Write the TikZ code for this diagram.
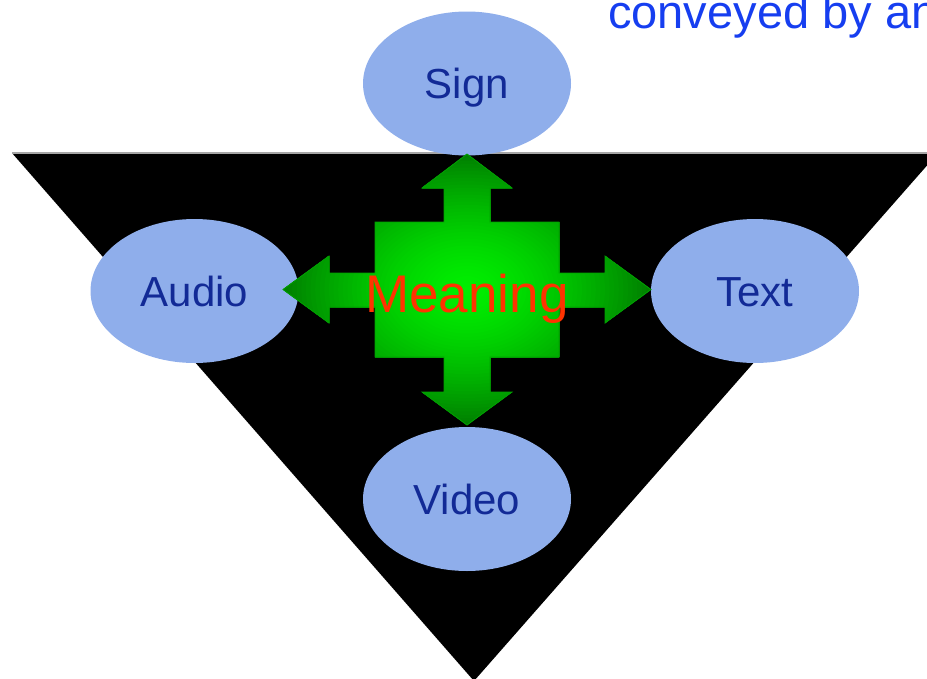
\documentclass[tikz,border=0pt]{standalone}
\usepackage{fontspec}
\setmainfont{Liberation Sans}
\usetikzlibrary{shapes.geometric}
\definecolor{ellfill}{RGB}{143,174,235}
\definecolor{lblblue}{RGB}{18,42,150}
\definecolor{topblue}{RGB}{22,62,240}
\definecolor{meanred}{RGB}{255,51,0}
\definecolor{gin}{RGB}{0,238,0}
\definecolor{gout}{RGB}{0,128,0}
\definecolor{gedge}{RGB}{0,160,0}
\tikzset{
  ell/.style={ellipse, fill=ellfill, inner sep=0pt, minimum width=208pt, minimum height=144pt,
    text=lblblue, font=\fontsize{42}{50}\selectfont, text height=30pt, text depth=0pt},
}
\begin{document}
\begin{tikzpicture}[x=1pt,y=-1pt]
\useasboundingbox (0,0) rectangle (927,678);
\clip (0,0) rectangle (927,678);
% triangle
\fill[black] (12,153) -- (938,153) -- (474,681) -- cycle;
\draw[gray!70, line width=1.2pt] (12,153) -- (938,153);
% ellipses
\node[ell] (sign)  at (467,83.5) {Sign};
\node[ell] (audio) at (194.5,291) {Audio};
\node[ell] (text)  at (755,291) {Text};
\node[ell] (video) at (467,499) {Video};
% green cross with radial gradient
\begin{scope}
\clip
 (467,154) -- (512,188) -- (490,188) -- (490,222) -- (559,222) -- (559,273) -- (605,273) -- (605,256)
 -- (651,289.5) -- (605,323) -- (605,307) -- (559,307) -- (559,357) -- (490,357) -- (490,392) -- (512,392)
 -- (467,425) -- (422,392) -- (444,392) -- (444,357) -- (375,357) -- (375,307) -- (329,307) -- (329,323)
 -- (283,289.5) -- (329,256) -- (329,273) -- (375,273) -- (375,222) -- (444,222) -- (444,188) -- (422,188) -- cycle;
\fill[gout] (270,140) rectangle (665,440);
\foreach \i in {44,...,1}{
  \pgfmathsetmacro{\p}{min(100,100*(\i/40)^1.5)}
  \pgfmathsetmacro{\rx}{184*\i/40}
  \pgfmathsetmacro{\ry}{135.5*\i/40}
  \fill[gout!\p!gin] (467,289.5) ellipse [x radius=\rx pt, y radius=\ry pt];
}
\end{scope}
\draw[gedge, line width=0.8pt]
 (467,154) -- (512,188) -- (490,188) -- (490,222) -- (559,222) -- (559,273) -- (605,273) -- (605,256)
 -- (651,289.5) -- (605,323) -- (605,307) -- (559,307) -- (559,357) -- (490,357) -- (490,392) -- (512,392)
 -- (467,425) -- (422,392) -- (444,392) -- (444,357) -- (375,357) -- (375,307) -- (329,307) -- (329,323)
 -- (283,289.5) -- (329,256) -- (329,273) -- (375,273) -- (375,222) -- (444,222) -- (444,188) -- (422,188) -- cycle;
\node[text=meanred, font=\fontsize{53}{60}\selectfont, inner sep=0pt, anchor=base] (meaning) at (467,312) {Meaning};
% top text
\node[text=topblue, font=\fontsize{47}{54}\selectfont, inner sep=0pt, anchor=base west] (top) at (608,28) {conveyed by an};
\end{tikzpicture}
\end{document}
